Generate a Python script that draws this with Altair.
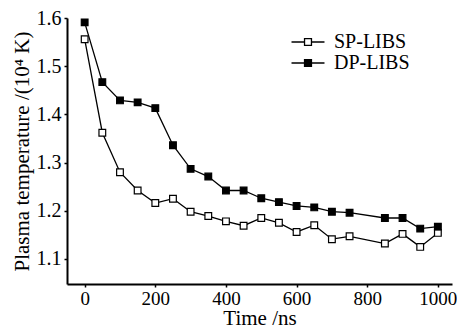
import altair as alt
import pandas as pd

time_ns = [0, 50, 100, 150, 200, 250, 300, 350, 400, 450, 500, 550, 600, 650, 700, 750, 850, 900, 950, 1000]
sp_libs = [1.556, 1.362, 1.280, 1.242, 1.216, 1.225, 1.198, 1.189, 1.178, 1.169, 1.185, 1.175, 1.156, 1.170,
           1.141, 1.147, 1.132, 1.152, 1.125, 1.154]
dp_libs = [1.591, 1.467, 1.429, 1.425, 1.413, 1.336, 1.287, 1.271, 1.242, 1.242, 1.226, 1.218, 1.210, 1.207,
           1.198, 1.196, 1.185, 1.185, 1.163, 1.167]
series_names = ["SP-LIBS", "DP-LIBS"]
x_ticks = [0, 200, 400, 600, 800, 1000]
y_ticks = [1.1, 1.2, 1.3, 1.4, 1.5, 1.6]

df = pd.DataFrame({
    "time": time_ns * 2,
    "temp": sp_libs + dp_libs,
    "series": [series_names[0]] * len(time_ns) + [series_names[1]] * len(time_ns),
})

font = "Liberation Serif"

x = alt.X("time:Q",
          scale=alt.Scale(domain=[-50, 1040], nice=False, zero=False),
          axis=alt.Axis(values=x_ticks, title="Time /ns", format="d", labelFontSize=19))
y = alt.Y("temp:Q",
          scale=alt.Scale(domain=[1.048, 1.6], nice=False, zero=False),
          axis=alt.Axis(values=y_ticks, title="Plasma temperature /(10\u2074 K)", format=".1f"))

legend_path = "M-2,0L-0.42,0M0.42,0L2,0M-0.42,-0.42L0.42,-0.42L0.42,0.42L-0.42,0.42Z"

lines = alt.Chart(df).mark_line(color="black", strokeWidth=1.3).encode(
    x=x, y=y, detail="series:N", order="time:Q")

points = alt.Chart(df).mark_point(shape="square", filled=True, stroke="black", strokeWidth=1.2,
                                  size=45, opacity=1).encode(
    x=x, y=y,
    fill=alt.Fill("series:N",
                  scale=alt.Scale(domain=series_names, range=["white", "black"]),
                  legend=alt.Legend(title=None, orient="none", legendX=231, legendY=14,
                                    symbolType=legend_path, symbolSize=272,
                                    symbolStrokeColor="black", symbolStrokeWidth=1.3,
                                    labelFont=font, labelFontSize=20, labelColor="black",
                                    labelOffset=16, rowPadding=1)),
)

chart = alt.layer(lines, points).properties(
    width=385, height=266, padding={"left": 2, "top": 0, "right": 0, "bottom": 0},
    background="white",
).configure_view(stroke=None).configure_axis(
    grid=False, domainColor="black", domainWidth=2, tickColor="black", tickWidth=1.5, tickSize=3,
    labelFont=font, labelFontSize=20, labelColor="black", titleFont=font, titleFontSize=21,
    titleFontWeight="normal", titleColor="black", labelPadding=2,
).configure_axisY(titlePadding=4, labelPadding=3).configure_axisX(titlePadding=-1)

chart.save("out.html", embed_options={"renderer": "svg", "actions": False})
